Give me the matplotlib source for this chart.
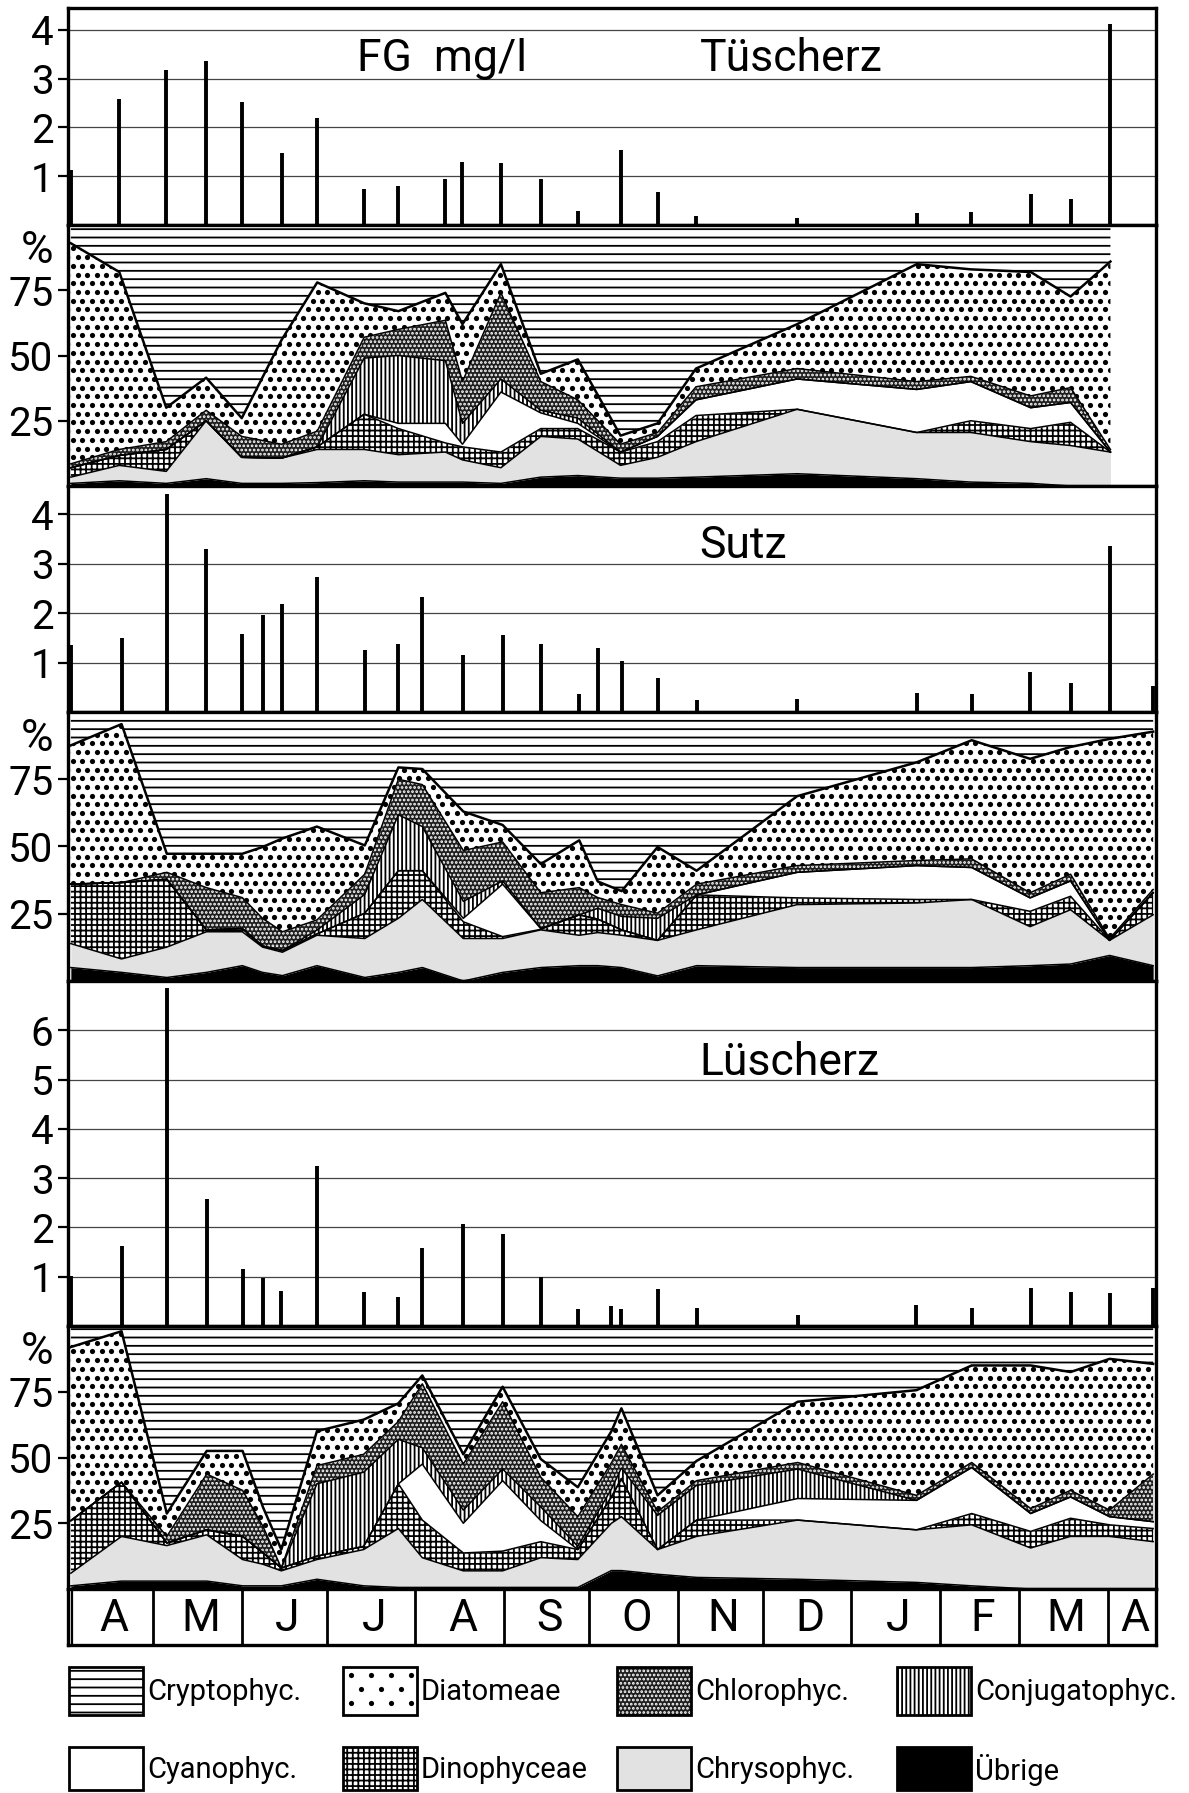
import numpy as np
import matplotlib.pyplot as plt
import matplotlib.transforms as mtransforms
from matplotlib.patches import Rectangle
from matplotlib.path import Path

plt.rcParams['font.family'] = ['Roboto', 'DejaVu Sans']
plt.rcParams['hatch.linewidth'] = 1.3

W, H = 1189, 1793          # figure size in pixels (dpi 100)
X0, X1 = 68, 1156          # left / right edge of the panels in pixels

# time axis: days after 1 April
months = ['A', 'M', 'J', 'J', 'A', 'S', 'O', 'N', 'D', 'J', 'F', 'M', 'A']
month_len = [30, 31, 30, 31, 31, 30, 31, 30, 31, 31, 28, 31, 17]

groups = ['Übrige', 'Chrysophyc.', 'Dinophyceae', 'Cyanophyc.',
          'Conjugatophyc.', 'Chlorophyc.', 'Diatomeae', 'Cryptophyc.']

# ---- Tüscherz ----
tue_days = [1, 18, 34.5, 48.5, 61, 75, 87.5, 104, 116, 132.5, 138.5, 152, 166, 179,
            194, 207, 220.5, 256, 298, 317, 338, 352, 366]
tue_fg = [1.12, 2.58, 3.18, 3.36, 2.53, 1.47, 2.19, 0.74, 0.80, 0.95, 1.30, 1.27, 0.95, 0.29,
          1.53, 0.68, 0.18, 0.14, 0.25, 0.27, 0.64, 0.54, 4.12]
tue_ubr = [1, 2, 1, 2.8, 1, 1, 1.3, 2, 1.5, 1.5, 1.5, 1, 3.4, 4, 3, 3, 3.4, 4.7, 2.8, 1.5, 1, 0, 0]
tue_chry = [2.4, 5.9, 4.6, 22.2, 10, 9.7, 12.7, 12, 10.5, 11.5, 8.5, 6, 15.6, 14, 4.9, 8, 13.6,
            24.7, 17.7, 19, 16, 15.5, 13]
tue_dino = [3.6, 3.8, 8.4, 0, 0, 0, 1, 13.5, 10, 3.5, 5, 6, 3, 4, 5.1, 6, 10, 0, 0, 4.5, 5, 8.9, 0]
tue_cyan = [0, 0, 0, 0, 0, 0, 0, 0, 2, 7.5, 1, 23, 6, 2, 0, 2, 6, 11.6, 16.5, 15, 8, 7.6, 0]
tue_conj = [0, 0, 0, 0, 0, 0, 0, 21.5, 26, 24, 8, 5, 1, 2, 0, 0, 0, 0, 0, 0, 0, 0, 0]
tue_chlo = [1.5, 2.3, 3, 4, 8, 5.3, 6, 8, 10, 15.5, 16, 33, 11, 7, 3, 1.5, 5, 4, 3, 2, 4.5, 5.7, 1]
tue_diat = [84.5, 68, 13, 12.5, 7, 40, 57, 13, 7, 10.5, 22, 11, 3, 15.5, 3.3, 3.5, 7, 17, 45,
            41, 47.5, 34.9, 72]

# ---- Sutz ----
sut_days = [1, 18.8, 34.7, 48.6, 61.2, 68.3, 75.3, 87.4, 104.2, 116, 124.4, 138.8, 152.6, 166,
            179.5, 186, 194.4, 207, 220.7, 256, 298, 317.3, 337.8, 352, 365.7, 381]
sut_fg = [1.35, 1.49, 4.4, 3.3, 1.58, 1.97, 2.19, 2.73, 1.25, 1.38, 2.33, 1.15, 1.55, 1.37,
          0.37, 1.3, 1.03, 0.69, 0.25, 0.26, 0.39, 0.37, 0.81, 0.59, 3.35, 0.53]
sut_ubr = [5, 3.2, 1.3, 3.2, 5.7, 3.2, 2, 5.7, 1.3, 3.2, 5, 0, 3.2, 5, 5.7, 5.7, 5, 1.9, 5.7,
           5, 5, 5, 5.7, 6.3, 9.5, 5.7]
sut_chry = [8.9, 5, 11.3, 15.1, 12.6, 9.4, 8.7, 11.3, 14.5, 20.1, 25.3, 15.8, 12.6, 14, 11.3,
            12.3, 12, 13.2, 13.3, 23.4, 24, 25.3, 14.5, 20.2, 5.6, 18.9]
sut_dino = [22.1, 28.4, 25.2, 0.7, 1.2, 0.4, 0.6, 0.5, 9.4, 17.7, 10.7, 6.2, 0.7, 0.2, 7.6, 5,
            2, 0, 13, 2.5, 1.3, 0, 5.7, 5, 0, 8.2]
sut_cyan = [0, 0, 0, 0, 0, 0, 0, 0, 0, 0, 0, 1.3, 19.5, 0.3, 0, 0, 0, 0, 0, 9.5, 12.6, 11.9,
            5, 5.7, 0, 0]
sut_conj = [0, 0, 0, 0, 0, 0, 0, 1.4, 7, 20.8, 16.4, 6.3, 1.2, 0, 0, 4, 5, 8.2, 0, 0, 0, 0,
            0, 0, 0, 0]
sut_chlo = [0, 0, 2.6, 15.7, 11.5, 10.3, 7, 3.8, 7.5, 13.2, 15.6, 18.9, 14.5, 13.3, 10.1, 4,
            4.4, 1.9, 4, 2.5, 1.9, 3.2, 1.9, 2.5, 0.7, 1.2]
sut_diat = [51.6, 58.9, 6.9, 12.6, 16.3, 26.5, 34.7, 34.7, 10.7, 4.4, 5.8, 14.5, 6.3, 10.7,
            17.6, 6, 5, 24.6, 5, 25.8, 36.5, 44.1, 49.8, 47.3, 74.2, 58.7]

# ---- Lüscherz ----
lue_days = [1, 18.8, 34.7, 48.7, 61.3, 68.5, 74.9, 87.4, 103.8, 116, 124.4, 138.8, 152.6, 166,
            179, 190.8, 194.3, 207, 220.7, 256.2, 297.9, 317.3, 338, 352, 365.7, 381]
lue_fg = [1.02, 1.62, 6.86, 2.58, 1.15, 0.97, 0.71, 3.24, 0.69, 0.59, 1.59, 2.06, 1.86, 0.99,
          0.34, 0.41, 0.34, 0.75, 0.37, 0.22, 0.43, 0.37, 0.78, 0.68, 0.67, 0.78]
lue_ubr = [1.2, 3, 3, 3, 1.2, 1.2, 1.2, 3.7, 1.2, 0.6, 0.6, 0.6, 0.6, 0.6, 0.6, 7, 7, 5.6, 4.4,
           3.7, 2.5, 1.2, 0, 0, 0, 0]
lue_chry = [4.8, 17, 13.5, 17.6, 10, 8.2, 5.7, 7.5, 13.8, 22.4, 11.3, 6.3, 6.3, 11.3, 10.6, 18,
            20.5, 9.4, 15.6, 22.5, 20, 23.2, 15.6, 20, 20, 18]
lue_dino = [20, 20.6, 1, 1.9, 8.8, 4.3, 1.1, 1.3, 1.2, 17, 14.3, 6.8, 7.5, 6.1, 3.8, 10, 14.5,
            0, 6.2, 0, 0, 4.3, 6.3, 6.9, 4.4, 5]
lue_cyan = [0, 0, 0, 0, 0, 0, 0, 0, 0, 0, 21.3, 11.3, 26.8, 8, 0, 0, 0, 0, 0, 8.2, 11.2, 17.5,
            6.8, 8.1, 3.1, 2.6]
lue_conj = [0, 0, 0, 0, 0, 0, 0, 27.5, 28.2, 16.9, 6.2, 5, 4.4, 5.2, 1.2, 3, 4, 13, 13.2, 11.2,
            0, 0, 0, 0, 0, 0]
lue_chlo = [0, 0, 2.5, 21.2, 17.5, 10, 0, 6.9, 6.8, 6.8, 24.3, 17.5, 25.6, 11.3, 11.3, 10, 9,
            1.4, 1.8, 2.5, 1.9, 1.9, 1.9, 2.5, 2.5, 18.1]
lue_diat = [66, 57.4, 8.7, 8.8, 15, 7.3, 7, 13.1, 13.2, 6.9, 3.2, 3.7, 5.7, 6.9, 11.2, 12, 13.7,
            6.2, 7.5, 23.1, 40, 36.9, 54.4, 45, 57.5, 41.9]

# fill styles, same order as groups (bottom to top); 'dots' = drawn as a dot raster
styles = [
    dict(fc='black', hatch=None, hc='black'),
    dict(fc='#e2e2e2', hatch=None, hc='black'),
    dict(fc='white', hatch='+++', hc='black'),
    dict(fc='white', hatch=None, hc='black'),
    dict(fc='white', hatch='||||', hc='black'),
    dict(fc='#1e1e1e', hatch='....', hc='white'),
    dict(fc='white', hatch='dots', hc='black'),
    dict(fc='white', hatch='--', hc='black'),
]

XMAX = sum(month_len)
TICKFS = 29
DOT_DX, DOT_DY, DOT_S = 9.6, 8.7, 14     # dot raster spacing (px) and marker size

fig = plt.figure(figsize=(W / 100, H / 100), dpi=100)


def px_axes(top, bottom):
    return fig.add_axes([X0 / W, 1 - bottom / H, (X1 - X0) / W, (bottom - top) / H])


def frame(ax):
    for s in ax.spines.values():
        s.set_linewidth(2.4)
    ax.set_xlim(0, XMAX)
    ax.set_xticks([])
    ax.tick_params(axis='y', direction='out', length=7, width=1.6, pad=3.5,
                   labelsize=TICKFS)


def dot_raster(ax, xs, ys, clip, clip_trans=None):
    gx, gy = np.meshgrid(np.asarray(xs, float), np.asarray(ys, float))
    gx[1::2] += (xs[1] - xs[0]) / 2
    sc = ax.scatter(gx.ravel(), gy.ravel(), s=DOT_S, c='black', marker='o',
                    linewidths=0, zorder=2.5)
    sc.set_clip_path(clip, clip_trans)


def fg_panel(ax, days, fg, ymax, ticks, title=None, title_y=0.7):
    frame(ax)
    ax.set_ylim(0, ymax)
    ax.set_yticks(ticks)
    for t in ticks:
        ax.axhline(t, color='#444444', lw=0.9, zorder=1)
    ax.vlines(days, 0, fg, color='black', lw=2.8, zorder=3, capstyle='butt')
    if title:
        ax.text(0.5805, title_y, title, transform=ax.transAxes, fontsize=32,
                ha='left', va='baseline')


def pct_panel(ax, days, layers, height_px):
    frame(ax)
    ax.set_ylim(0, 100)
    ax.set_yticks([25, 50, 75])
    days = np.asarray(days, float)
    layers = [np.asarray(l, float) for l in layers]
    rest = 100 - np.sum(layers, axis=0)          # Cryptophyceae make up the remainder
    layers = layers + [rest]
    lower = np.zeros_like(days)
    px_day = (X1 - X0) / XMAX
    for i, (vals, st) in enumerate(zip(layers, styles)):
        upper = lower + vals
        hatch = None if st['hatch'] == 'dots' else st['hatch']
        poly = ax.fill_between(days, lower, upper, facecolor=st['fc'],
                               edgecolor=st['hc'], hatch=hatch, linewidth=0, zorder=2)
        if st['hatch'] == 'dots':
            clip = Path.make_compound_path(*poly.get_paths())
            dot_raster(ax, np.arange(0, XMAX, DOT_DX / px_day),
                       np.arange(1.0, 100, DOT_DY / height_px * 100), clip, ax.transData)
        if i < len(layers) - 1:
            ax.plot(days, upper, color='black', lw=1.8 if i == 6 else 1.1, zorder=3)
        lower = upper
    trans = mtransforms.blended_transform_factory(ax.transAxes, ax.transData)
    ax.text(-0.014, 90, '%', transform=trans, fontsize=32, ha='right', va='center')


# panel rows in pixels (top, bottom)
rows = [(8, 225), (225, 486), (486, 712), (712, 981), (981, 1326), (1326, 1589), (1589, 1645)]
ax1, ax2, ax3, ax4, ax5, ax6, ax7 = [px_axes(t, b) for t, b in rows]

fg_panel(ax1, tue_days, tue_fg, 4.45, [1, 2, 3, 4], 'Tüscherz', 0.708)
ax1.text(0.266, 0.708, 'FG  mg/l', transform=ax1.transAxes, fontsize=32,
         ha='left', va='baseline')
pct_panel(ax2, tue_days, [tue_ubr, tue_chry, tue_dino, tue_cyan, tue_conj, tue_chlo, tue_diat],
          rows[1][1] - rows[1][0])

fg_panel(ax3, sut_days, sut_fg, 4.57, [1, 2, 3, 4], 'Sutz', 0.681)
pct_panel(ax4, sut_days, [sut_ubr, sut_chry, sut_dino, sut_cyan, sut_conj, sut_chlo, sut_diat],
          rows[3][1] - rows[3][0])

fg_panel(ax5, lue_days, lue_fg, 7.0, [1, 2, 3, 4, 5, 6], 'Lüscherz', 0.728)
pct_panel(ax6, lue_days, [lue_ubr, lue_chry, lue_dino, lue_cyan, lue_conj, lue_chlo, lue_diat],
          rows[5][1] - rows[5][0])

# month strip
for s in ax7.spines.values():
    s.set_linewidth(2.4)
ax7.set_xlim(0, XMAX)
ax7.set_ylim(0, 1)
ax7.set_xticks([])
ax7.set_yticks([])
bounds = np.cumsum(month_len)
starts = np.concatenate([[0], bounds[:-1]])
for b in bounds[:-1]:
    ax7.axvline(b, color='black', lw=2.0)
ax7.axvline(1.4, color='black', lw=1.6)
for m, a, b in zip(months, starts, bounds):
    ax7.text((a + b) / 2 + 1, 0.47, m, fontsize=32, ha='center', va='center')

# legend
axl = fig.add_axes([0, 0, 1, (H - 1645) / H])
axl.set_xlim(0, W)
axl.set_ylim(H, 1645)
axl.axis('off')
leg_order = [7, 6, 5, 4, 3, 2, 1, 0]
col_x = [69, 343, 617, 897]
row_y = [(1667, 48), (1747, 43)]
for k, gi in enumerate(leg_order):
    r, c = divmod(k, 4)
    y, h = row_y[r]
    st = styles[gi]
    hatch = None if st['hatch'] == 'dots' else st['hatch']
    swatch = Rectangle((col_x[c], y), 74, h, facecolor=st['fc'], edgecolor=st['hc'],
                       hatch=hatch, linewidth=0, zorder=2)
    axl.add_patch(swatch)
    if st['hatch'] == 'dots':
        dot_raster(axl, np.arange(col_x[c] + 8, col_x[c] + 74, 20),
                   np.arange(y + 8, y + h, 14), swatch)
    axl.add_patch(Rectangle((col_x[c], y), 74, h, facecolor='none', edgecolor='black',
                            linewidth=2.0, zorder=3))
    axl.text(col_x[c] + 78, y + h / 2 + 1, groups[gi], fontsize=21, ha='left', va='center')

fig.savefig('out.png', dpi=100)
